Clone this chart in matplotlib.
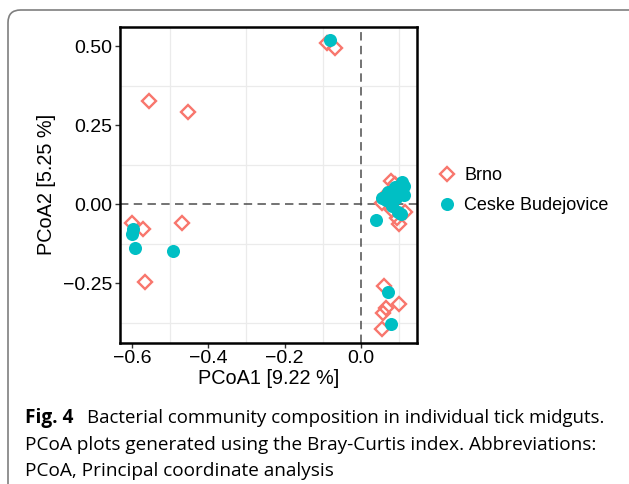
import numpy as np
import matplotlib
matplotlib.use("Agg")
import matplotlib.pyplot as plt
from matplotlib.patches import FancyBboxPatch
from matplotlib.ticker import MultipleLocator

# PCoA scores (Bray-Curtis), one row per midgut sample
brno_x = [-0.556, -0.454, -0.088, -0.068, -0.600, -0.572, -0.470, -0.566,
          0.080, 0.090, 0.067, 0.056, 0.082, 0.096, 0.101, 0.117, 0.085,
          0.062, 0.067, 0.059, 0.101, 0.056]
brno_y = [0.326, 0.292, 0.510, 0.493, -0.061, -0.077, -0.058, -0.246,
          0.073, 0.063, 0.028, 0.003, -0.019, -0.044, -0.063, -0.025, 0.013,
          -0.259, -0.329, -0.345, -0.316, -0.396]
cb_x = [-0.081, -0.598, -0.600, -0.593, -0.493,
        0.040, 0.056, 0.072, 0.090, 0.109, 0.114, 0.093, 0.082, 0.098, 0.106,
        0.067, 0.114, 0.072, 0.080]
cb_y = [0.519, -0.080, -0.093, -0.138, -0.149,
        -0.051, 0.019, 0.038, 0.054, 0.070, 0.057, 0.019, -0.006, -0.025, -0.032,
        0.013, 0.028, -0.278, -0.380]

groups = ["Brno", "Ceske Budejovice"]
xlab = "PCoA1 [9.22 %]"
ylab = "PCoA2 [5.25 %]"
caption = ["Bacterial community composition in individual tick midguts.",
           "PCoA plots generated using the Bray-Curtis index. Abbreviations:",
           "PCoA, Principal coordinate analysis"]

plt.rcParams['font.family'] = ['Liberation Sans', 'DejaVu Sans']

fig = plt.figure(figsize=(6.29, 4.84), dpi=100)
ax = fig.add_axes([0.1908, 0.2919, 0.4717, 0.6529])

ax.plot(brno_x, brno_y, ls='none', marker='D', ms=6.9, mfc='none',
        mec='#F8766D', mew=1.7, label=groups[0], zorder=3)
ax.plot(cb_x, cb_y, ls='none', marker='o', ms=9.4, mfc='#00BFC4',
        mec='none', label=groups[1], zorder=3)

ax.axhline(0, color='#4d4d4d', ls=(0, (5.5, 3.5)), lw=1.1, zorder=2)
ax.axvline(0, color='#4d4d4d', ls=(0, (5.5, 3.5)), lw=1.1, zorder=2)

ax.set_xlim(-0.632, 0.147)
ax.set_ylim(-0.438, 0.561)
ax.xaxis.set_major_locator(MultipleLocator(0.2))
ax.yaxis.set_major_locator(MultipleLocator(0.25))
ax.xaxis.set_minor_locator(MultipleLocator(0.1))
ax.yaxis.set_minor_locator(MultipleLocator(0.125))
ax.grid(which='minor', color='#ebebeb', lw=0.9)
ax.set_axisbelow(True)
ax.tick_params(which='minor', length=0)
ax.tick_params(which='major', length=3.5, width=1.0, color='#333333',
               labelsize=14, pad=2, labelcolor='black')
ax.xaxis.set_major_formatter(lambda v, p: f"{v:.1f}".replace('-', '\u2212'))
ax.yaxis.set_major_formatter(lambda v, p: f"{v:.2f}".replace('-', '\u2212'))
for s in ax.spines.values():
    s.set_linewidth(1.8)
    s.set_color('black')

ax.set_xlabel(xlab, fontsize=14.3, labelpad=1)
ax.set_ylabel(ylab, fontsize=14.3, labelpad=5)

ax.legend(loc='center left', bbox_to_anchor=(1.05, 0.481), frameon=False,
          fontsize=13, handlelength=0.9, handletextpad=0.5,
          labelspacing=0.7, borderaxespad=0)

# rounded figure frame
frame = FancyBboxPatch((8 / 629, -20 / 484), 700 / 629, 494 / 484,
                       boxstyle="round,pad=0,rounding_size=0.02",
                       transform=fig.transFigure, fc='none', ec='#7f7f7f',
                       lw=1.2, clip_on=False, mutation_aspect=629 / 484)
fig.patches.append(frame)

cap_font = ['Open Sans', 'DejaVu Sans']
fig.text(25 / 629, 1 - 423 / 484, "Fig. 4", fontsize=13.7, fontweight='bold',
         family=cap_font, va='baseline')
fig.text(87 / 629, 1 - 423 / 484, caption[0], fontsize=13.4,
         family=cap_font, va='baseline')
fig.text(25 / 629, 1 - 450 / 484, caption[1], fontsize=13.7,
         family=cap_font, va='baseline')
fig.text(25 / 629, 1 - 476 / 484, caption[2], fontsize=13.7,
         family=cap_font, va='baseline')

fig.savefig("out.png", dpi=100)
